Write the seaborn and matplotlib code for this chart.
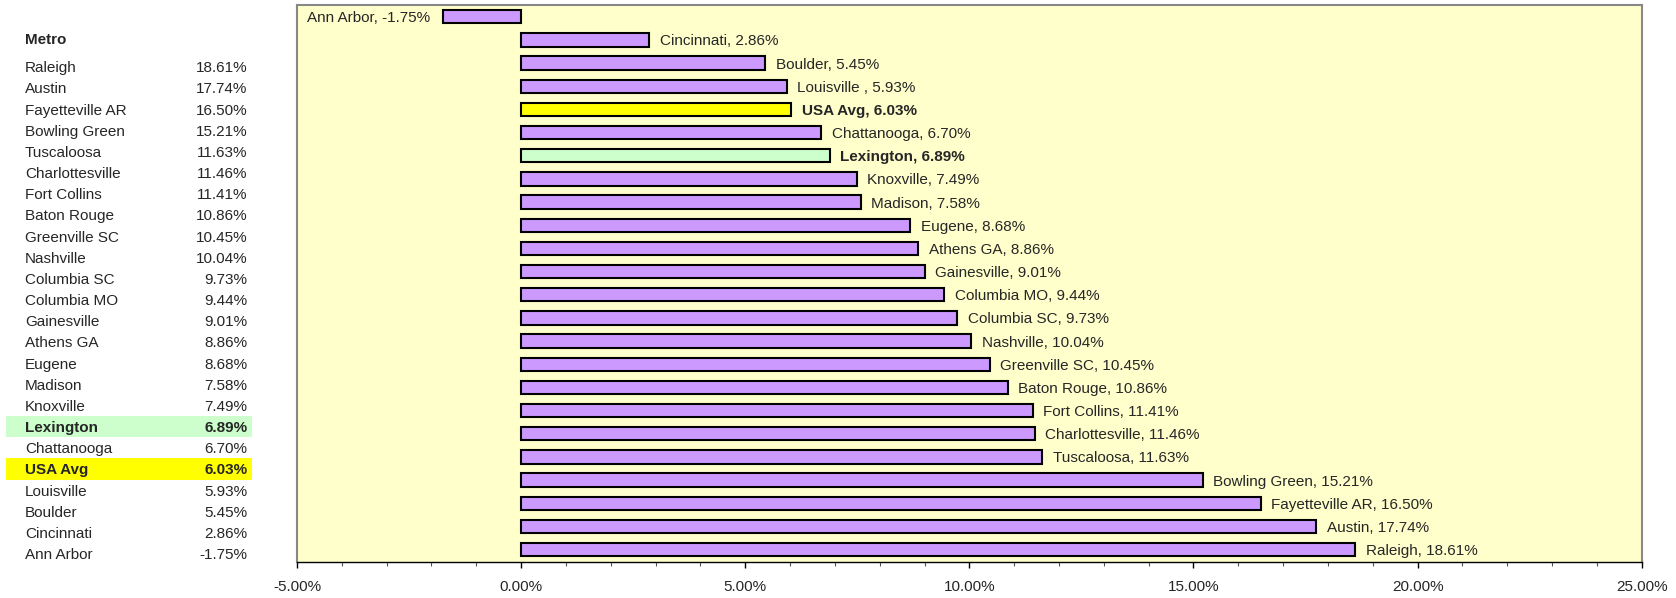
import matplotlib
matplotlib.use("Agg")
import matplotlib.pyplot as plt
import seaborn as sns
import numpy as np
from matplotlib.patches import Rectangle
from matplotlib.ticker import MultipleLocator, FuncFormatter

# ---- data ----
metros = ["Ann Arbor", "Cincinnati", "Boulder", "Louisville ", "USA Avg", "Chattanooga",
          "Lexington", "Knoxville", "Madison", "Eugene", "Athens GA", "Gainesville",
          "Columbia MO", "Columbia SC", "Nashville", "Greenville SC", "Baton Rouge",
          "Fort Collins", "Charlottesville", "Tuscaloosa", "Bowling Green",
          "Fayetteville AR", "Austin", "Raleigh"]
growth = [-1.75, 2.86, 5.45, 5.93, 6.03, 6.70, 6.89, 7.49, 7.58, 8.68, 8.86, 9.01,
          9.44, 9.73, 10.04, 10.45, 10.86, 11.41, 11.46, 11.63, 15.21, 16.50, 17.74, 18.61]
highlight = {"USA Avg": "#FFFF00", "Lexington": "#CCFFCC"}
base_color = "#CC99FF"
x_ticks = [-5, 0, 5, 10, 15, 20, 25]

W, H = 1676, 598
sns.set_theme(style="white")
plt.rcParams["font.family"] = ["Liberation Sans", "DejaVu Sans"]
plt.rcParams["font.size"] = 11

fig = plt.figure(figsize=(W / 100, H / 100), dpi=100)
fig.patch.set_facecolor("white")
ax = fig.add_axes([297 / W, 1 - 561.7 / H, (1641.7 - 297) / W, (561.7 - 4.7) / H])
ax.set_facecolor("#FFFFCC")

colors = [highlight.get(m.strip(), base_color) for m in metros]
sns.barplot(x=growth, y=metros, hue=metros, palette=colors, legend=False,
            orient="h", width=0.575, edgecolor="black", linewidth=1.5, ax=ax,
            saturation=1)

ax.set_xlim(x_ticks[0], x_ticks[-1])
ax.set_ylim(len(metros) - 1 + 0.52, -0.52)
ax.xaxis.set_major_locator(MultipleLocator(5))
ax.xaxis.set_minor_locator(MultipleLocator(1))
ax.xaxis.set_major_formatter(FuncFormatter(lambda v, p: f"{v:.2f}%"))
ax.tick_params(axis="x", which="major", direction="out", length=4, width=1,
               color="black", labelsize=11, pad=9, bottom=True)
ax.tick_params(axis="x", which="minor", direction="out", length=3, width=0.8,
               color="#555555", bottom=True)
ax.set_yticks([])
ax.set_xlabel("")
ax.set_ylabel("")
for s in ["top", "right", "left"]:
    ax.spines[s].set_color("#888888")
    ax.spines[s].set_linewidth(1.5)
ax.spines["bottom"].set_color("black")
ax.spines["bottom"].set_linewidth(1)

for i, (m, v) in enumerate(zip(metros, growth)):
    bold = m.strip() in highlight
    txt = f"{m}, {v:.2f}%"
    if v >= 0:
        ax.annotate(txt, (v, i), xytext=(7.5, 0), textcoords="offset points",
                    ha="left", va="center_baseline", fontsize=11,
                    fontweight="bold" if bold else "normal")
    else:
        ax.annotate(txt, (v, i), xytext=(-9, 0), textcoords="offset points",
                    ha="right", va="center_baseline", fontsize=11,
                    fontweight="bold" if bold else "normal")

# ---- left table ----
def fx(px):
    return px / W

def fy(py):
    return 1 - py / H

fig.text(fx(25), fy(38), "Metro", fontsize=11, fontweight="bold",
         ha="left", va="center_baseline")
order = sorted(range(len(metros)), key=lambda k: -growth[k])
row0, dy = 66.7, 21.17
for r, k in enumerate(order):
    name = metros[k].strip()
    yc = row0 + r * dy
    bold = name in highlight
    if bold:
        fig.patches.append(Rectangle((fx(6), fy(yc + 10.8)), (252 - 6) / W, 21.6 / H,
                                     transform=fig.transFigure, facecolor=highlight[name],
                                     edgecolor="none", zorder=0))
    fig.text(fx(25), fy(yc), name, fontsize=11, ha="left", va="center_baseline",
             fontweight="bold" if bold else "normal")
    fig.text(fx(247.5), fy(yc), f"{growth[k]:.2f}%", fontsize=11, ha="right",
             va="center_baseline", fontweight="bold" if bold else "normal")

fig.savefig("out.png", dpi=100, facecolor="white")
